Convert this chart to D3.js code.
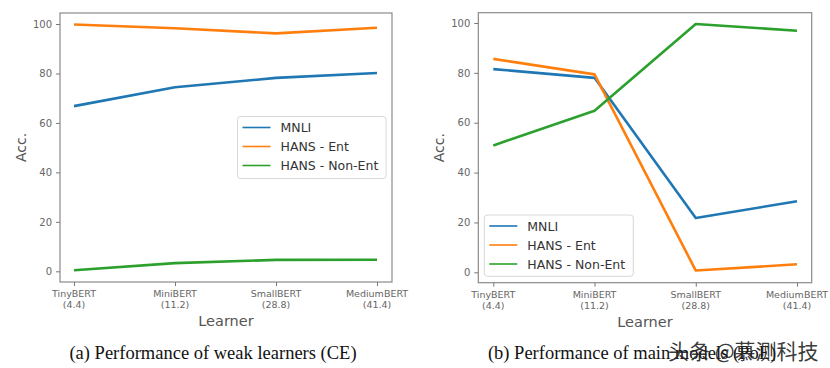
<!DOCTYPE html>
<html><head><meta charset="utf-8">
<script src="https://cdn.jsdelivr.net/npm/d3@7"></script>
<style>body{margin:0;background:#fff}svg{display:block}</style>
</head><body>
<svg id="c" width="830" height="368"></svg>
<script>
const learners = [["TinyBERT","(4.4)"],["MiniBERT","(11.2)"],["SmallBERT","(28.8)"],["MediumBERT","(41.4)"]];
const seriesNames = ["MNLI","HANS - Ent","HANS - Non-Ent"];
const colors = ["#1f77b4","#ff7f0e","#2ca02c"];
const yTicks = [0,20,40,60,80,100];
// Panel (a): weak learners (CE)
const weakMNLI = [66.8, 74.4, 78.2, 80.2];
const weakEnt = [99.8, 98.3, 96.2, 98.5];
const weakNonEnt = [0.4, 3.3, 4.6, 4.7];
// Panel (b): main models (PoE)
const mainMNLI = [81.5, 78.0, 21.8, 28.5];
const mainEnt = [85.6, 79.4, 0.7, 3.2];
const mainNonEnt = [50.9, 64.8, 99.6, 96.9];
const captions = ["(a) Performance of weak learners (CE)", "(b) Performance of main models (PoE)"];
const watermark = "头条 @慕测科技";

const svg = d3.select("#c");
const sans = "'DejaVu Sans', sans-serif";

function panel(cfg){
  const g = svg.append("g");
  const x = d3.scalePoint().domain(d3.range(learners.length)).range([cfg.x0, cfg.x1]);
  const y = d3.scaleLinear().domain([0,100]).range([cfg.y0, cfg.y100]);
  // frame
  g.append("rect").attr("x",cfg.fl).attr("y",cfg.ft).attr("width",cfg.fr-cfg.fl).attr("height",cfg.fb-cfg.ft)
    .attr("fill","none").attr("stroke","#8a8a8a").attr("stroke-width",1.2);
  // y axis
  const ya = g.append("g").attr("transform",`translate(${cfg.fl},0)`)
    .call(d3.axisLeft(y).tickValues(yTicks).tickSize(4).tickPadding(4));
  ya.select(".domain").remove();
  ya.selectAll("line").attr("stroke","#777");
  ya.selectAll("text").attr("fill","#666").style("font-family",sans).style("font-size","10px");
  // x axis
  const xa = g.append("g").attr("transform",`translate(0,${cfg.fb})`)
    .call(d3.axisBottom(x).tickSize(4).tickFormat(""));
  xa.select(".domain").remove();
  xa.selectAll("line").attr("stroke","#777");
  learners.forEach((l,i)=>{
    l.forEach((t,j)=>{
      g.append("text").attr("x",x(i)).attr("y",cfg.fb+15+j*11).attr("text-anchor","middle")
        .attr("fill","#666").style("font-family",sans).style("font-size","9.5px").text(t);
    });
  });
  // labels
  g.append("text").attr("x",(cfg.fl+cfg.fr)/2).attr("y",cfg.fb+44).attr("text-anchor","middle")
    .attr("fill","#555").style("font-family",sans).style("font-size","14.5px").text("Learner");
  g.append("text").attr("transform",`translate(${cfg.fl-34},${(cfg.ft+cfg.fb)/2}) rotate(-90)`)
    .attr("text-anchor","middle").attr("fill","#555").style("font-family",sans).style("font-size","14px").text("Acc.");
  // lines
  const line = d3.line().x((d,i)=>x(i)).y(d=>y(d));
  cfg.data.forEach((s,k)=>{
    g.append("path").attr("d",line(s)).attr("fill","none").attr("stroke",colors[k])
      .attr("stroke-width",2.6).attr("stroke-linejoin","round").attr("stroke-linecap","butt");
  });
  // legend
  const lg = g.append("g");
  lg.append("rect").attr("x",cfg.lx).attr("y",cfg.ly).attr("width",cfg.lw).attr("height",cfg.lh).attr("rx",3)
    .attr("fill","#fff").attr("fill-opacity",0.85).attr("stroke","#d8d8d8");
  seriesNames.forEach((n,k)=>{
    const yy = cfg.ly + 11 + k*19;
    lg.append("line").attr("x1",cfg.lx+5).attr("x2",cfg.lx+33).attr("y1",yy).attr("y2",yy)
      .attr("stroke",colors[k]).attr("stroke-width",1.6);
    lg.append("text").attr("x",cfg.lx+43).attr("y",yy+4.5).attr("fill","#333")
      .style("font-family",sans).style("font-size","12.5px").text(n);
  });
  // caption
  svg.append("text").attr("x",cfg.cx).attr("y",359).attr("text-anchor","middle").attr("fill","#111")
    .style("font-family","'Liberation Serif', 'DejaVu Serif', serif").style("font-size","18.5px").text(cfg.caption);
}

panel({x0:74,x1:377,y0:271.3,y100:24,fl:60,fr:392,ft:13,fb:282,data:[weakMNLI,weakEnt,weakNonEnt],
  lx:237.5,ly:116.5,lw:148.5,lh:62,cx:213,caption:captions[0]});
panel({x0:493.3,x1:797,y0:272.3,y100:23,fl:478.3,fr:811.7,ft:12.7,fb:282.7,data:[mainMNLI,mainEnt,mainNonEnt],
  lx:484.3,ly:215,lw:149,lh:61.3,cx:632,caption:captions[1]});

// watermark (overlays the caption, as in the reference)
svg.append("text").attr("x",668).attr("y",359).attr("fill","#222").attr("fill-opacity",0.9)
  .style("font-family","'Noto Sans CJK SC', sans-serif").style("font-size","21px").text(watermark);
</script>
</body></html>
